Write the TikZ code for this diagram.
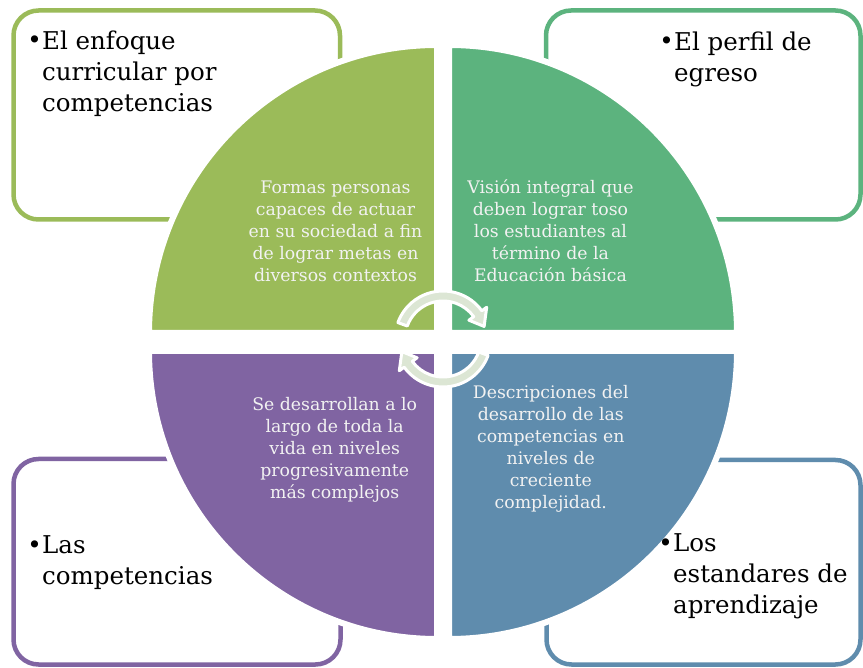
\documentclass[tikz,border=0pt]{standalone}
\usepackage{fontspec}
\setmainfont{DejaVu Serif}
\definecolor{qgA}{HTML}{9BBB59}
\definecolor{qgB}{HTML}{5CB37E}
\definecolor{qpu}{HTML}{8064A2}
\definecolor{qbl}{HTML}{5F8CAD}
\definecolor{arrfill}{HTML}{DCE6D4}
\newcommand\tstrut[1]{\rule{0pt}{#1}}
\begin{document}
\begin{tikzpicture}[x=1pt,y=1pt,
  boxframe/.style={draw=#1, line width=4.5pt, rounded corners=25pt, fill=white},
  quadrant/.style={fill=#1, draw=white, line width=6pt, line join=miter},
  qtext/.style={align=center, inner sep=0pt, anchor=north, text=white!95!black, font=\fontsize{17.3}{22}\selectfont},
  btext/.style={align=left, inner sep=0pt, anchor=north west, font=\fontsize{24.5}{31}\selectfont},
  bulletnode/.style={inner sep=0pt, anchor=base east, font=\fontsize{24.5}{31}\selectfont},
  cyclearrow/.style={fill=arrfill, draw=white, line width=3pt, line join=round}]

\useasboundingbox (0,0) rectangle (863,-668);

% outer boxes
\path[boxframe=qgA] (13.5,-10.5) rectangle (340,-219.5);
\path[boxframe=qgB] (546,-10.5) rectangle (860.5,-219.5);
\path[boxframe=qpu] (13.5,-459) rectangle (340.5,-664.5);
\path[boxframe=qbl] (546.5,-460) rectangle (860.5,-664.5);

% quadrants
\path[quadrant=qgA] (437,-333) -- ++(-288,0) arc[start angle=180, end angle=90, radius=288] -- cycle;
\path[quadrant=qgB] (449,-333) -- ++(0,288) arc[start angle=90, end angle=0, radius=288] -- cycle;
\path[quadrant=qpu] (437,-351) -- ++(-288,0) arc[start angle=180, end angle=270, radius=288] -- cycle;
\path[quadrant=qbl] (449,-351) -- ++(288,0) arc[start angle=0, end angle=-90, radius=288] -- cycle;

% box texts
\node[bulletnode] (b1) at (42,-49) {•};
\node[btext] (t1) at (42,-27) {\tstrut{22pt}El enfoque\\curricular por\\competencias};
\node[bulletnode] (b2) at (674,-50) {•};
\node[btext] (t2) at (674,-28) {\tstrut{22pt}El perfil de\\egreso};
\node[bulletnode] (b3) at (42,-553) {•};
\node[btext] (t3) at (42,-531) {\tstrut{22pt}Las\\competencias};
\node[bulletnode] (b4) at (673,-551) {•};
\node[btext] (t4) at (673,-529) {\tstrut{22pt}Los\\estandares de\\aprendizaje};

% quadrant texts
\node[qtext] (q1) at (335.5,-178) {\tstrut{15pt}Formas personas\\capaces de actuar\\en su sociedad a fin\\de lograr metas en\\diversos contextos};
\node[qtext] (q2) at (550.5,-178) {\tstrut{15pt}Visión integral que\\deben lograr toso\\los estudiantes al\\término de la\\Educación básica};
\node[qtext] (q3) at (334.7,-395) {\tstrut{15pt}Se desarrollan a lo\\largo de toda la\\vida en niveles\\progresivamente\\más complejos};
\node[qtext] (q4) at (550.8,-383) {\tstrut{15pt}Descripciones del\\desarrollo de las\\competencias en\\niveles de\\creciente\\complejidad.};

% central cycle arrows
\begin{scope}[shift={(443,-339)}]
\path[cyclearrow] (160:38) arc[start angle=160, end angle=36, radius=38]
  -- (36:32) -- (17:43) -- (36:54) -- (36:48)
  arc[start angle=36, end angle=160, radius=48] -- cycle;
\path[cyclearrow] (-20:38) arc[start angle=-20, end angle=-144, radius=38]
  -- (-144:32) -- (-163:43) -- (-144:54) -- (-144:48)
  arc[start angle=-144, end angle=-20, radius=48] -- cycle;
\end{scope}
\end{tikzpicture}
\end{document}
